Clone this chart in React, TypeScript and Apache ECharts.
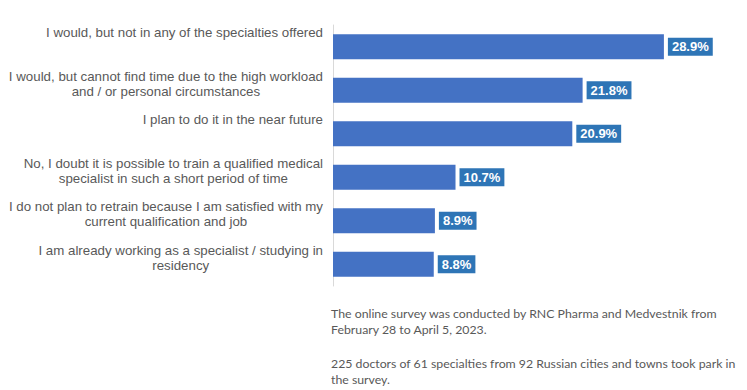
import React, { useEffect, useRef } from "react";
import * as echarts from "echarts";

const categories = [
  "I would, but not in any of the specialties offered",
  "I would, but cannot find time due to the high workload\nand / or personal circumstances",
  "I plan to do it in the near future",
  "No, I doubt it is possible to train a qualified medical\nspecialist in such a short period of time",
  "I do not plan to retrain because I am satisfied with my\ncurrent qualification and job",
  "I am already working as a specialist / studying in\nresidency",
];
const values = [28.9, 21.8, 20.9, 10.7, 8.9, 8.8];
const notes = [
  "The online survey was conducted by RNC Pharma and Medvestnik from",
  "February 28 to April 5, 2023.",
  "",
  "225 doctors of 61 specialties from 92 Russian cities and towns took park in",
  "the survey.",
];

export default function App() {
  const ref = useRef<HTMLDivElement>(null);
  useEffect(() => {
    if (!ref.current) return;
    const chart = echarts.init(ref.current, undefined, { renderer: "svg" });
    const font = "'Liberation Sans', Arial, sans-serif";
    chart.setOption({
      animation: false,
      backgroundColor: "#ffffff",
      grid: { left: 333, top: 25, height: 261, width: 343.5, containLabel: false },
      xAxis: { type: "value", min: 0, max: 30, show: false },
      yAxis: [
        {
          type: "category",
          position: "left",
          inverse: true,
          boundaryGap: false,
          data: [...categories, ""],
          axisLine: { show: true, lineStyle: { color: "#D9D9D9", width: 1 } },
          axisTick: { show: false },
          splitLine: { show: false },
          axisLabel: {
            interval: 0,
            margin: 10,
            align: "right",
            verticalAlign: "top",
            formatter: (v: string) =>
              v ? v.split("\n").map((l) => `{c|${l}}`).join("\n") : "",
            rich: {
              c: {
                align: "center",
                fontSize: 13.3,
                lineHeight: 15.3,
                color: "#595959",
                fontFamily: font,
              },
            },
          },
        },
        {
          type: "category",
          position: "right",
          inverse: true,
          data: categories,
          show: false,
        },
      ],
      series: [
        {
          type: "bar",
          yAxisIndex: 1,
          data: values,
          barWidth: 25,
          itemStyle: { color: "#4472C4" },
          label: {
            show: true,
            position: "right",
            distance: 4,
            formatter: (p: any) => `${Number(p.value).toFixed(1)}%`,
            backgroundColor: "#2E75B6",
            color: "#ffffff",
            fontWeight: "bold",
            fontSize: 13,
            lineHeight: 14,
            padding: [2, 4, 2, 4],
            fontFamily: font,
          },
        },
      ],
      graphic: [
        {
          type: "text",
          left: 331,
          top: 305,
          style: {
            text: notes.join("\n"),
            fontSize: 12.3,
            lineHeight: 16.6,
            fill: "#595959",
            fontFamily: "Lato, 'Open Sans', sans-serif",
          },
        },
      ],
    });
    return () => chart.dispose();
  }, []);
  return (
    <div
      ref={ref}
      style={{ position: "absolute", left: 0, top: 0, width: 747, height: 390 }}
    />
  );
}
